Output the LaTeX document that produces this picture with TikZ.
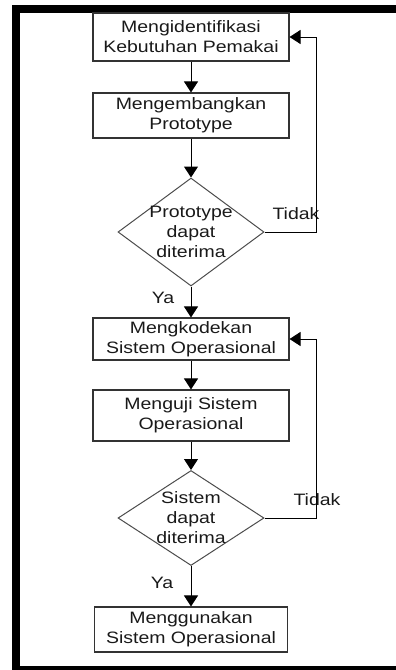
\documentclass[tikz,border=0pt]{standalone}
\usepackage{fontspec}
\setmainfont{Liberation Sans}[FakeStretch=1.18]
\usepackage{tikz}
\usetikzlibrary{shapes.geometric,arrows.meta}

\begin{document}
\begin{tikzpicture}[x=1pt, y=-1pt,
    kotak/.style={draw=black!80, line width=1.1pt, minimum width=196pt, inner sep=0pt,
        align=center, font=\fontsize{16.5}{20}\selectfont, text=black!90},
    keputusan/.style={draw=black!70, line width=1pt, diamond, inner sep=0pt},
    teks/.style={align=center, inner sep=0pt, font=\fontsize{16.5}{20}\selectfont, text=black!90},
    panah/.style={-{Triangle[length=11pt,width=14pt]}, line width=1pt}]

    \useasboundingbox (0,0) rectangle (396,670);
    \draw[line width=8pt] (16,8.8) rectangle (430,670);

    % kotak proses
    \node[kotak, minimum height=48pt] (k1) at (191,37) {Mengidentifikasi\\Kebutuhan Pemakai};
    \node[kotak, minimum height=45pt] (k2) at (191,115.5) {Mengembangkan\\Prototype};
    \node[keputusan, minimum width=146pt, minimum height=108pt] (d1) at (191,232) {};
    \node[teks] (t1) at (d1) {Prototype\\dapat\\diterima};
    \node[kotak, minimum height=42pt] (k3) at (191,339) {Mengkodekan\\Sistem Operasional};
    \node[kotak, minimum height=51pt] (k4) at (191,415.5) {Menguji Sistem\\Operasional};
    \node[keputusan, minimum width=146pt, minimum height=95pt] (d2) at (191,518) {};
    \node[teks] (t2) at (d2) {Sistem\\dapat\\diterima};
    \node[kotak, minimum width=193pt, minimum height=45pt] (k5) at (191,629.5) {Menggunakan\\Sistem Operasional};

    % label
    \node[teks] (tidak1) at (296,214) {Tidak};
    \node[teks] (ya1) at (163,298) {Ya};
    \node[teks] (tidak2) at (317,500) {Tidak};
    \node[teks] (ya2) at (162,583) {Ya};

    % alur
    \draw[panah] (k1) -- (k2);
    \draw[panah] (k2) -- (d1.north);
    \draw[panah] (d1.south) -- (k3);
    \draw[panah] (k3) -- (k4);
    \draw[panah] (k4) -- (d2.north);
    \draw[panah] (d2.south) -- (k5);
    \draw[panah] (d1.east) -- ++(52,0) |- (k1.east);
    \draw[panah] (d2.east) -- ++(52,0) |- (k3.east);

\end{tikzpicture}
\end{document}
